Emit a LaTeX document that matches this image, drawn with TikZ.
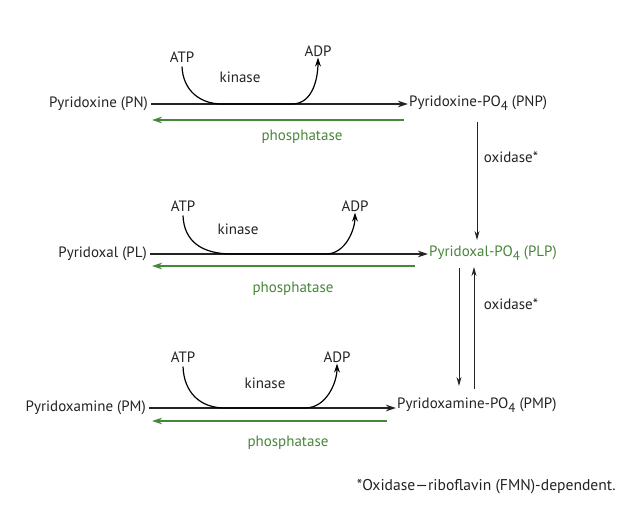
\documentclass[tikz,border=0pt]{standalone}
\usepackage{fontspec}
\setmainfont{PT Sans}
\usetikzlibrary{arrows.meta}
\definecolor{pgreen}{RGB}{72,134,58}
\definecolor{ptext}{RGB}{35,35,35}
\newcommand{\lowfour}{\raisebox{-0.45ex}{\fontsize{13}{13}\selectfont 4}}
\tikzset{
  lbl/.style={font=\fontsize{15}{17}\selectfont, text=ptext, inner sep=1pt},
  glbl/.style={lbl, text=pgreen},
  fwd/.style={draw=ptext, line width=1.2pt, -{Stealth[length=10pt,width=6.5pt]}},
  back/.style={draw=pgreen, line width=1.2pt, -{Stealth[length=10pt,width=6.5pt]}},
  kin/.style={draw=black, line width=1.2pt, -{Stealth[length=9pt,width=6pt]}},
  vert/.style={draw=ptext, line width=0.9pt, -{Stealth[length=9pt,width=5pt]}}
}
\begin{document}
\begin{tikzpicture}[x=1pt,y=-1pt]
\useasboundingbox (0,0) rectangle (625,526);
% ---------- row 1
\node[lbl, anchor=east] (PN) at (149,104) {Pyridoxine (PN)};
\node[lbl, anchor=west] (PNP) at (408,103) {Pyridoxine-PO\lowfour\ (PNP)};
\node[lbl] (ATP1) at (182,57) {ATP};
\node[lbl] (ADP1) at (318,51) {ADP};
\node[lbl] (kin1) at (240,77) {kinase};
\node[glbl] (ph1) at (302,137) {phosphatase};
\coordinate (g1s) at (404,120);
\coordinate (g1e) at (152,120);
\coordinate (k1a) at (222,104);
\coordinate (k1b) at (292,104);
\draw[fwd] (PN.east) ++(2,0) -- (PNP.west |- PN.east);
\draw[back] (g1s) -- (g1e);
\draw[kin] (ATP1.south) ++(0,3) .. controls +(1,24) and +(-22,0) .. (k1a) -- (k1b) .. controls +(22,0) and +(0,18) .. (ADP1.south);
% ---------- row 2
\node[lbl, anchor=east] (PL) at (148,254) {Pyridoxal (PL)};
\node[glbl, anchor=west] (PLP) at (428,253) {Pyridoxal-PO\lowfour\ (PLP)};
\node[lbl] (ATP2) at (183,206) {ATP};
\node[lbl] (ADP2) at (355,206) {ADP};
\node[lbl] (kin2) at (238,229) {kinase};
\node[glbl] (ph2) at (293,289) {phosphatase};
\coordinate (g2s) at (415,266);
\coordinate (g2e) at (152,266);
\coordinate (k2a) at (232,254);
\coordinate (k2b) at (326,254);
\draw[fwd] (PL.east) ++(2,0) -- (PLP.west |- PL.east);
\draw[back] (g2s) -- (g2e);
\draw[kin] (ATP2.south) ++(0,3) .. controls +(1,26) and +(-30,0) .. (k2a) -- (k2b) .. controls +(20,0) and +(0,16) .. (ADP2.south);
% ---------- row 3
\node[lbl, anchor=east] (PM) at (147,408) {Pyridoxamine (PM)};
\node[lbl, anchor=west] (PMP) at (396,405) {Pyridoxamine-PO\lowfour\ (PMP)};
\node[lbl] (ATP3) at (183,357) {ATP};
\node[lbl] (ADP3) at (337,357) {ADP};
\node[lbl] (kin3) at (265,383) {kinase};
\node[glbl] (ph3) at (288,443) {phosphatase};
\coordinate (g3s) at (387,421);
\coordinate (g3e) at (152,421);
\coordinate (k3a) at (225,408);
\coordinate (k3b) at (305,408);
\draw[fwd] (PM.east) ++(2,0) -- (PMP.west |- PM.east);
\draw[back] (g3s) -- (g3e);
\draw[kin] (ATP3.south) ++(0,3) .. controls +(1,26) and +(-25,0) .. (k3a) -- (k3b) .. controls +(22,0) and +(0,18) .. (ADP3.south);
% ---------- vertical
\coordinate (a1) at (477,122);
\coordinate (b1) at (477,240);
\coordinate (a2) at (459,268);
\coordinate (b2) at (459,386);
\coordinate (a3) at (474,389);
\coordinate (b3) at (474,267);
\draw[vert] (a1) -- (b1);
\draw[vert] (a2) -- (b2);
\draw[vert] (a3) -- (b3);
\node[lbl] (ox1) at (511,157) {oxidase*};
\node[lbl] (ox2) at (511,304) {oxidase*};
% footnote
\node[lbl, font=\fontsize{15.6}{17}\selectfont, anchor=east] (fn) at (617,487) {*Oxidase—riboflavin (FMN)-dependent.};
\end{tikzpicture}
\end{document}
